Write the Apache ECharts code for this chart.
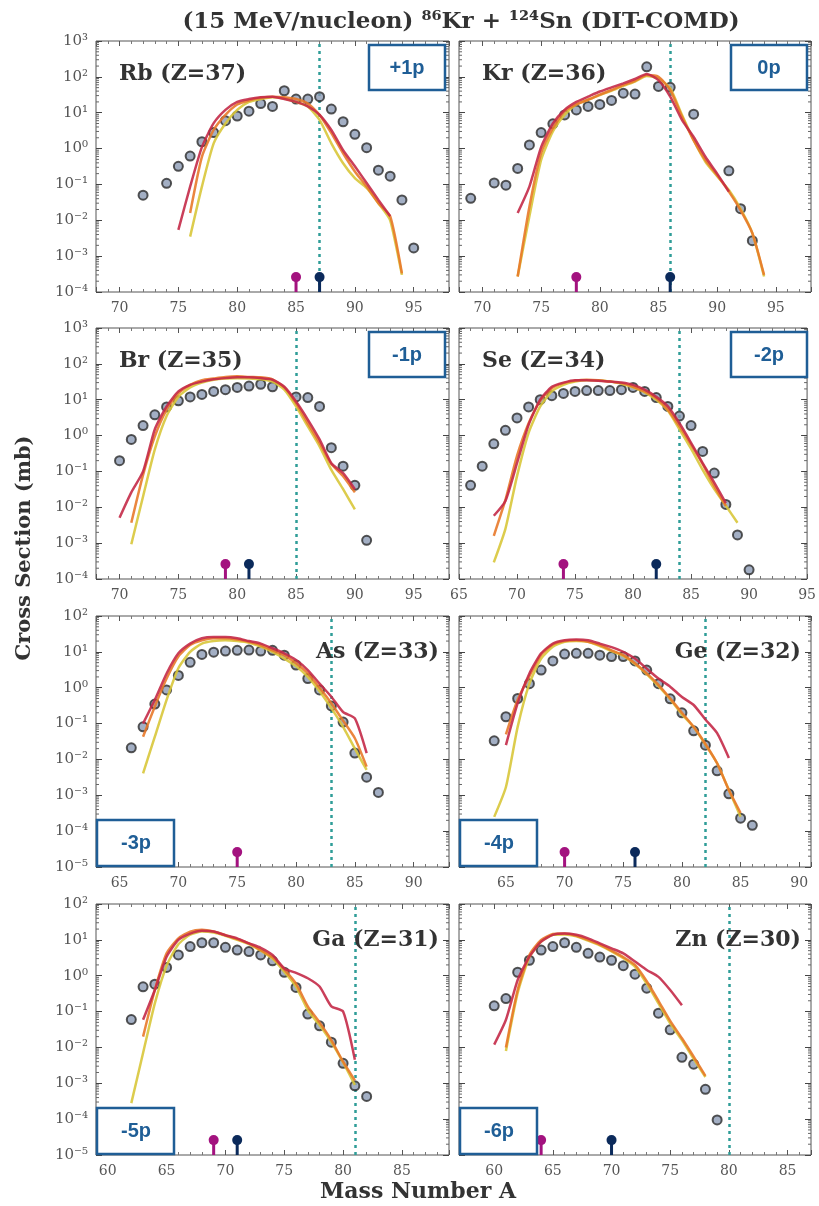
<!DOCTYPE html>
<html>
<head>
<meta charset="utf-8">
<script src="https://cdn.jsdelivr.net/npm/echarts@6/dist/echarts.min.js"></script>
<style>html,body{margin:0;padding:0;background:#fff}#main{width:819px;height:1206px}</style>
</head>
<body>
<div id="main"></div>
<script>
//图容器
var chart = echarts.init(document.getElementById('main'));

//各面板名称和质子转移标签
var panelNames = ['Rb (Z=37)', 'Kr (Z=36)', 'Br (Z=35)', 'Se (Z=34)', 'As (Z=33)', 'Ge (Z=32)', 'Ga (Z=31)', 'Zn (Z=30)'];
var boxLabels = ['+1p', '0p', '-1p', '-2p', '-3p', '-4p', '-5p', '-6p'];
var xMin = [68, 68, 68, 65, 63, 61, 59, 57];
var xMax = [98, 98, 98, 95, 93, 91, 89, 87];
var yMinExp = [-4, -4, -4, -4, -5, -5, -5, -5];
var yMaxExp = [3, 3, 3, 3, 2, 2, 2, 2];
var projMass = [87, 86, 85, 84, 83, 82, 81, 80];
var pinMagenta = [85, 78, 79, 74, 75, 70, 69, 64];
var pinNavy = [87, 86, 81, 82, null, 76, 71, 70];

//实验数据 [A, mb]
var rbExp = [[72,0.05],[74,0.107],[75,0.32],[76,0.62],[77,1.55],[78,2.8],[79,6],[80,8.1],[81,11],[82,18],[83,15],[84,41],[85,24],[86,24],[87,28],[88,12.6],[89,5.6],[90,2.5],[91,1.06],[92,0.25],[93,0.17],[94,0.037],[95,0.0017]];
var krExp = [[69,0.041],[71,0.11],[72,0.095],[73,0.28],[74,1.26],[75,2.8],[76,4.9],[77,8.7],[78,12],[79,15],[80,17],[81,22],[82,35],[83,33],[84,190],[85,54],[86,51],[88,9.1],[91,0.24],[92,0.021],[93,0.0027]];
var brExp = [[70,0.2],[71,0.78],[72,1.9],[73,3.8],[74,6.3],[75,9.3],[76,12],[77,14],[78,17],[79,19],[80,22],[81,24],[82,27],[83,23],[85,12],[86,11.5],[87,6.5],[88,0.46],[89,0.14],[90,0.041],[91,0.0012]];
var seExp = [[66,0.041],[67,0.14],[68,0.59],[69,1.4],[70,3.1],[71,6.3],[72,10],[73,13],[74,15],[75,17],[76,18],[77,18],[78,18],[79,19],[80,22],[81,17],[82,11.5],[83,6.5],[84,3.5],[85,1.9],[86,0.36],[87,0.09],[88,0.012],[89,0.0017],[90,0.00018]];
var asExp = [[66,0.021],[67,0.081],[68,0.35],[69,0.87],[70,2.2],[71,5.1],[72,8.5],[73,9.8],[74,10.5],[75,11],[76,11.2],[77,10.5],[78,11],[79,8.1],[80,4.3],[81,1.8],[82,0.87],[83,0.31],[84,0.11],[85,0.015],[86,0.0032],[87,0.0012]];
var geExp = [[64,0.033],[65,0.155],[66,0.5],[67,1.3],[68,3.1],[69,5.6],[70,8.7],[71,9.1],[72,9.1],[73,8.1],[74,7.4],[75,7.4],[76,5.6],[77,3.1],[78,1.3],[79,0.49],[80,0.2],[81,0.063],[82,0.025],[83,0.0048],[84,0.0011],[85,0.00023],[86,0.000145]];
var gaExp = [[62,0.06],[63,0.49],[64,0.58],[65,1.7],[66,3.8],[67,6.5],[68,8.3],[69,8.3],[70,6.2],[71,5.2],[72,4.7],[73,3.8],[74,2.6],[75,1.25],[76,0.47],[77,0.085],[78,0.04],[79,0.014],[80,0.0036],[81,0.00085],[82,0.00043]];
var znExp = [[60,0.145],[61,0.23],[62,1.25],[63,2.7],[64,5.2],[65,6.5],[66,8.3],[67,6.2],[68,4.2],[69,3.3],[70,2.7],[71,1.9],[72,1.1],[73,0.45],[74,0.09],[75,0.031],[76,0.0053],[77,0.0034],[78,0.00068],[79,0.000095]];

//模型计算 - 红线
var rbRed = [[75,0.0054],[76,0.087],[77,1.1],[78,5.1],[79,12],[80,20],[81,24],[82,27],[83,28],[84,24],[85,20],[86,15],[87,8.7],[88,3.3],[89,0.9],[90,0.32],[91,0.11],[92,0.037],[93,0.013]];
var krRed = [[73,0.016],[74,0.087],[75,1.1],[76,5],[77,12],[78,20],[79,28],[80,39],[81,51],[82,66],[83,87],[84,120],[85,81],[86,28],[87,6.3],[88,2.1],[89,0.59],[90,0.2],[91,0.063]];
var brRed = [[70,0.0051],[71,0.026],[72,0.1],[73,1.5],[74,6.5],[75,17],[76,26],[77,32],[78,37],[79,40],[80,42],[81,42],[82,40],[83,36],[84,23],[85,8.9],[86,2.8],[87,0.78],[88,0.17],[89,0.09],[90,0.032]];
var seRed = [[68,0.0058],[69,0.015],[70,0.17],[71,2],[72,10],[73,23],[74,30],[75,35],[76,35],[77,34],[78,32],[79,30],[80,26],[81,19],[82,12],[83,6.5],[84,2.2],[85,0.63],[86,0.17],[87,0.049],[88,0.013]];
var asRed = [[67,0.1],[68,0.46],[69,2.5],[70,9.1],[71,17],[72,24],[73,26],[74,26],[75,24],[76,20],[77,17],[78,12.6],[79,9.1],[80,5.9],[81,3.1],[82,1.3],[83,0.56],[84,0.21],[85,0.14],[86,0.015]];
var geRed = [[65,0.025],[66,0.37],[67,2.5],[68,9.1],[69,17],[70,21],[71,22],[72,21],[73,17],[74,13.5],[75,10],[76,6.5],[77,3.4],[78,1.8],[79,1.07],[80,0.55],[81,0.33],[82,0.13],[83,0.054],[84,0.011]];
var gaRed = [[63,0.059],[64,0.4],[65,3.4],[66,10],[67,15],[68,18],[69,17],[70,13.5],[71,11],[72,8],[73,6],[74,3.8],[75,1.6],[76,1.2],[77,0.85],[78,0.5],[79,0.14],[80,0.1],[81,0.0045]];
var znRed = [[60,0.012],[61,0.059],[62,0.76],[63,3.4],[64,8.9],[65,13.8],[66,15],[67,13.8],[68,11],[69,8],[70,5.8],[71,4.2],[72,2.5],[73,1.45],[74,0.93],[75,0.4],[76,0.15]];

//模型计算 - 橙线
var rbOrange = [[76,0.016],[77,0.59],[78,3.3],[79,8.7],[80,17],[81,22],[82,26],[83,28],[84,27],[85,24],[86,18],[87,8.7],[88,2.7],[89,0.74],[90,0.23],[91,0.087],[92,0.03],[93,0.013],[94,0.00033]];
var krOrange = [[73,0.00027],[74,0.024],[75,0.74],[76,3.7],[77,11],[78,17],[79,23],[80,32],[81,43],[82,59],[83,78],[84,112],[85,100],[86,43],[87,7.8],[88,1.7],[89,0.48],[90,0.18],[91,0.063],[92,0.019],[93,0.0044],[94,0.0003]];
var brOrange = [[71,0.0037],[72,0.08],[73,0.95],[74,5.3],[75,15],[76,26],[77,35],[78,39],[79,43],[80,45],[81,43],[82,42],[83,37],[84,22],[85,8.1],[86,2.2],[87,0.63],[88,0.16],[89,0.074],[90,0.026]];
var seOrange = [[68,0.0016],[69,0.016],[70,0.27],[71,2.2],[72,9.3],[73,21],[74,29],[75,34],[76,36],[77,35],[78,32],[79,29],[80,23],[81,17],[82,11],[83,5.3],[84,1.8],[85,0.56],[86,0.16],[87,0.039],[88,0.011]];
var asOrange = [[67,0.043],[68,0.3],[69,1.8],[70,7.4],[71,15.5],[72,21],[73,24],[74,24],[75,22],[76,19],[77,15.5],[78,11],[79,8],[80,4.8],[81,2.5],[82,1],[83,0.37],[84,0.12],[85,0.039],[86,0.0063]];
var geOrange = [[65,0.05],[66,0.46],[67,2.1],[68,8.3],[69,16],[70,20],[71,21],[72,19],[73,15.5],[74,11],[75,8.1],[76,4.8],[77,2.5],[78,1.2],[79,0.5],[80,0.2],[81,0.081],[82,0.027],[83,0.0078],[84,0.0014],[85,0.00032]];
var gaOrange = [[63,0.02],[64,0.4],[65,4.2],[66,11],[67,17],[68,19],[69,17],[70,13.5],[71,10.5],[72,8],[73,5.2],[74,3.3],[75,1.5],[76,0.6],[77,0.14],[78,0.05],[79,0.016],[80,0.004],[81,0.0012]];
var znOrange = [[61,0.01],[62,0.4],[63,3.8],[64,10],[65,14.5],[66,15],[67,13],[68,10],[69,7.4],[70,5],[71,3.3],[72,2],[73,0.7],[74,0.2],[75,0.055],[76,0.018],[77,0.0055],[78,0.0016]];

//模型计算 - 黄线
var rbYellow = [[76,0.0035],[77,0.087],[78,1.4],[79,5],[80,12],[81,20],[82,24],[83,27],[84,25],[85,20],[86,15],[87,6.3],[88,1.4],[89,0.39],[90,0.15],[91,0.08],[92,0.03],[93,0.01],[94,0.0003]];
var krYellow = [[73,0.00027],[74,0.013],[75,0.48],[76,3],[77,8.7],[78,17],[79,23],[80,31],[81,41],[82,56],[83,74],[84,105],[85,91],[86,48],[87,8.7],[88,1.7],[89,0.43],[90,0.17],[91,0.07],[92,0.021],[93,0.0044],[94,0.00027]];
var brYellow = [[71,0.00093],[72,0.02],[73,0.41],[74,3.5],[75,12],[76,22],[77,30],[78,36],[79,39],[80,40],[81,39],[82,37],[83,32],[84,19],[85,6.5],[86,1.8],[87,0.5],[88,0.11],[89,0.032],[90,0.0087]];
var seYellow = [[68,0.00029],[69,0.0025],[70,0.074],[71,1.2],[72,6.5],[73,17],[74,26],[75,32],[76,35],[77,35],[78,32],[79,28],[80,22],[81,16],[82,10],[83,5],[84,1.5],[85,0.43],[86,0.11],[87,0.032],[88,0.011],[89,0.0037]];
var asYellow = [[67,0.0041],[68,0.043],[69,0.46],[70,3.5],[71,10],[72,17],[73,20],[74,21],[75,20],[76,18],[77,14],[78,10],[79,6.5],[80,4],[81,2],[82,0.8],[83,0.27],[84,0.081],[85,0.02],[86,0.0051]];
var geYellow = [[64,0.00025],[65,0.0017],[66,0.081],[67,1.3],[68,6.5],[69,14],[70,19],[71,20],[72,19],[73,14.5],[74,10.5],[75,7.7],[76,4.6],[77,2.4],[78,1.1],[79,0.48],[80,0.18],[81,0.08],[82,0.026],[83,0.0078],[84,0.0014],[85,0.00025]];
var gaYellow = [[62,0.00028],[63,0.007],[64,0.17],[65,1.9],[66,7.5],[67,14],[68,17],[69,16],[70,13],[71,10],[72,7.6],[73,5],[74,3],[75,1.3],[76,0.5],[77,0.11],[78,0.042],[79,0.014],[80,0.0038],[81,0.0009]];
var znYellow = [[61,0.008],[62,0.33],[63,3.3],[64,9],[65,13.8],[66,14.2],[67,12.5],[68,9.5],[69,7],[70,4.8],[71,3.1],[72,1.8],[73,0.6],[74,0.17],[75,0.047],[76,0.016],[77,0.0048],[78,0.0015]];

var expData = [rbExp, krExp, brExp, seExp, asExp, geExp, gaExp, znExp];
var redData = [rbRed, krRed, brRed, seRed, asRed, geRed, gaRed, znRed];
var orangeData = [rbOrange, krOrange, brOrange, seOrange, asOrange, geOrange, gaOrange, znOrange];
var yellowData = [rbYellow, krYellow, brYellow, seYellow, asYellow, geYellow, gaYellow, znYellow];

//布局
var colLeft = [96, 459];
var colWidth = [353, 352];
var rowTop = [41, 328, 616, 904];
var rowHeight = 251;

var SERIF = '"DejaVu Serif", "Liberation Serif", serif';
var SANS = '"Liberation Sans", Arial, sans-serif';
var BLUE = '#1f5e96';

var supMap = {'-': '\u207b', '0': '\u2070', '1': '\u00b9', '2': '\u00b2', '3': '\u00b3', '4': '\u2074', '5': '\u2075'};
function powLabel(v) {
	var e = Math.round(Math.log(v) / Math.LN10);
	return '10' + String(e).split('').map(function (c) { return supMap[c]; }).join('');
}

//对数轴的次刻度 (2..9 x 10^n)，画在左右两边
function logMinorTicks(i) {
	var out = [];
	for (var e = yMinExp[i]; e < yMaxExp[i]; e++) {
		for (var k = 2; k <= 9; k++) out.push([xMin[i], k * Math.pow(10, e)]);
	}
	return out;
}
function renderMinor(params, api) {
	var p = api.coord([api.value(0), api.value(1)]);
	var cs = params.coordSys;
	var style = {stroke: '#666', lineWidth: 1};
	return {
		type: 'group',
		children: [
			{type: 'line', shape: {x1: cs.x, y1: p[1], x2: cs.x + 3, y2: p[1]}, style: style},
			{type: 'line', shape: {x1: cs.x + cs.width - 3, y1: p[1], x2: cs.x + cs.width, y2: p[1]}, style: style}
		]
	};
}

var grids = [], xAxes = [], yAxes = [], series = [], graphics = [];
var xTop = [], yRight = [];

for (var i = 0; i < 8; i++) {
	var col = i % 2, row = Math.floor(i / 2);
	var yLo = Math.pow(10, yMinExp[i]), yHi = Math.pow(10, yMaxExp[i]);
	grids.push({
		left: colLeft[col], top: rowTop[row], width: colWidth[col], height: rowHeight,
		show: true, borderColor: '#555', borderWidth: 1, backgroundColor: '#fff'
	});
	xAxes.push({
		type: 'value', gridIndex: i, min: xMin[i], max: xMax[i], splitNumber: 6,
		axisLine: {show: false},
		axisTick: {inside: true, length: 5, lineStyle: {color: '#555'}},
		minorTick: {show: true, splitNumber: 5, length: 3, lineStyle: {color: '#777'}},
		splitLine: {show: false},
		axisLabel: {
			margin: 9, color: '#555', fontFamily: SERIF, fontSize: 14,
			formatter: function (v) { return v % 5 === 0 ? String(v) : ''; }
		}
	});
	xTop.push({
		type: 'value', gridIndex: i, position: 'top', min: xMin[i], max: xMax[i], splitNumber: 6,
		axisLine: {show: false},
		axisTick: {inside: true, length: 5, lineStyle: {color: '#555'}},
		minorTick: {show: true, splitNumber: 5, length: 3, lineStyle: {color: '#777'}},
		splitLine: {show: false}, axisLabel: {show: false}
	});
	yAxes.push({
		type: 'log', logBase: 10, gridIndex: i, min: yLo, max: yHi, splitNumber: 7,
		axisLine: {show: false},
		axisTick: {inside: true, length: 6, lineStyle: {color: '#444'}},
		splitLine: {show: false},
		axisLabel: {
			show: col === 0, margin: 8, color: '#555', fontFamily: SERIF, fontSize: 15,
			formatter: powLabel
		}
	});
	yRight.push({
		type: 'log', logBase: 10, gridIndex: i, position: 'right', min: yLo, max: yHi, splitNumber: 7,
		axisLine: {show: false},
		axisTick: {inside: true, length: 6, lineStyle: {color: '#444'}},
		splitLine: {show: false}, axisLabel: {show: false}
	});

	series.push({
		type: 'custom', xAxisIndex: i, yAxisIndex: i, silent: true, z: 2,
		renderItem: renderMinor, data: logMinorTicks(i)
	});

	//实验点 + 弹核质量虚线
	series.push({
		type: 'scatter', xAxisIndex: i, yAxisIndex: i, data: expData[i],
		symbol: 'circle', symbolSize: 9, z: 3,
		itemStyle: {color: '#8c9bb5', borderColor: '#2b2b2b', borderWidth: 2},
		markLine: {
			silent: true, symbol: 'none', label: {show: false}, z: 1,
			lineStyle: {type: [3, 4], color: '#2f9d98', width: 2.5},
			data: [{xAxis: projMass[i]}]
		}
	});
	[[yellowData, '#d8c63a'], [orangeData, '#e8792a'], [redData, '#c42a48']].forEach(function (m, k) {
		series.push({
			type: 'line', xAxisIndex: i, yAxisIndex: i, data: m[0][i],
			showSymbol: false, smooth: 0.2, z: 4 + k,
			lineStyle: {color: m[1], width: 2.5, opacity: 0.9}
		});
	});
	//底部标记
	[[pinMagenta[i], '#a3127f'], [pinNavy[i], '#0b2a5b']].forEach(function (p) {
		if (p[0] === null) return;
		series.push({
			type: 'line', xAxisIndex: i, yAxisIndex: i, z: 6,
			lineStyle: {color: p[1], width: 3}, itemStyle: {color: p[1]},
			data: [
				{value: [p[0], yLo], symbol: 'none'},
				{value: [p[0], yLo * 2.6], symbol: 'circle', symbolSize: 10}
			]
		});
	});

	//元素标签
	var gl = colLeft[col], gt = rowTop[row], gw = colWidth[col];
	if (row < 2) {
		graphics.push({type: 'text', z: 20, style: {text: panelNames[i], x: gl + 23, y: gt + 33, font: 'bold 22px ' + SERIF, fill: '#333', textAlign: 'left', textVerticalAlign: 'middle'}});
		graphics.push({type: 'rect', z: 20, shape: {x: gl + gw - 80, y: gt + 4, width: 76, height: 45}, style: {fill: '#fff', stroke: BLUE, lineWidth: 2.5}});
		graphics.push({type: 'text', z: 21, style: {text: boxLabels[i], x: gl + gw - 42, y: gt + 27, font: 'bold 20px ' + SANS, fill: BLUE, textAlign: 'center', textVerticalAlign: 'middle'}});
	} else {
		graphics.push({type: 'text', z: 20, style: {text: panelNames[i], x: gl + gw - 10, y: gt + 36, font: 'bold 22px ' + SERIF, fill: '#333', textAlign: 'right', textVerticalAlign: 'middle'}});
		graphics.push({type: 'rect', z: 20, shape: {x: gl + 1, y: gt + 204, width: 77, height: 46}, style: {fill: '#fff', stroke: BLUE, lineWidth: 2.5}});
		graphics.push({type: 'text', z: 21, style: {text: boxLabels[i], x: gl + 40, y: gt + 227, font: 'bold 20px ' + SANS, fill: BLUE, textAlign: 'center', textVerticalAlign: 'middle'}});
	}
}

graphics.push({type: 'text', style: {text: '(15 MeV/nucleon) \u2078\u2076Kr + \u00b9\u00b2\u2074Sn (DIT-COMD)', x: 461, y: 22, font: 'bold 23px ' + SERIF, fill: '#333', textAlign: 'center', textVerticalAlign: 'middle'}});
graphics.push({type: 'text', rotation: Math.PI / 2, x: 25, y: 548, style: {text: 'Cross Section (mb)', x: 0, y: 0, font: 'bold 21px ' + SERIF, fill: '#333', textAlign: 'center', textVerticalAlign: 'middle'}});
graphics.push({type: 'text', style: {text: 'Mass Number A', x: 418, y: 1192, font: 'bold 22px ' + SERIF, fill: '#333', textAlign: 'center', textVerticalAlign: 'middle'}});

var option = {
	animation: false,
	backgroundColor: '#fff',
	grid: grids,
	xAxis: xAxes.concat(xTop),
	yAxis: yAxes.concat(yRight),
	series: series,
	graphic: graphics
};
chart.setOption(option);
</script>
</body>
</html>
